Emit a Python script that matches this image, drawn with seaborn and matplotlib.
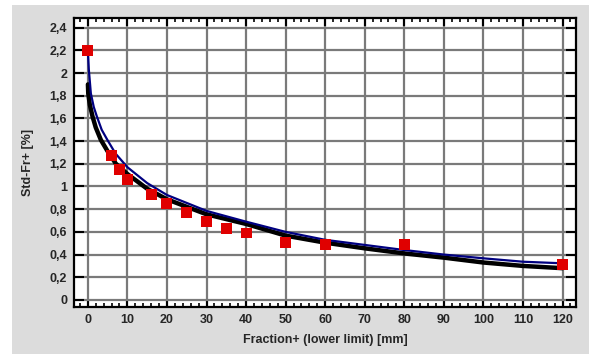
import numpy as np
import pandas as pd
import matplotlib
matplotlib.use("Agg")
import matplotlib.pyplot as plt
from matplotlib.patches import Rectangle
from matplotlib.ticker import MultipleLocator, FuncFormatter
import seaborn as sns

# Measured points (red squares)
frac_x = [0, 6, 8, 10, 16, 20, 25, 30, 35, 40, 50, 60, 80, 120]
std_y = [2.2, 1.27, 1.15, 1.06, 0.93, 0.85, 0.77, 0.69, 0.63, 0.59, 0.51, 0.485, 0.49, 0.31]

# Blue curve
blue_x = [0, 0.25, 0.76, 1.5, 2.3, 3.5, 4.95, 7, 9, 10, 15, 20, 30, 40, 50, 60, 70, 80, 90, 100, 110, 120]
blue_y = [2.2, 2.03, 1.82, 1.70, 1.615, 1.50, 1.41, 1.29, 1.21, 1.17, 1.03, 0.925, 0.785, 0.69, 0.60,
          0.53, 0.485, 0.44, 0.40, 0.367, 0.337, 0.323]

# Black curve
black_x = [0.02, 0.1, 0.5, 1.2, 2, 3.3, 5, 7.1, 10, 15, 20, 30, 40, 50, 60, 70, 80, 90, 100, 110, 120]
black_y = [1.90, 1.82, 1.72, 1.615, 1.52, 1.41, 1.31, 1.20, 1.11, 0.98, 0.887, 0.755, 0.67, 0.567,
           0.505, 0.455, 0.41, 0.373, 0.33, 0.30, 0.28]

sns.set_style("white")
plt.rcParams['font.family'] = ['Liberation Sans', 'DejaVu Sans']

fig = plt.figure(figsize=(5.89, 3.54), dpi=100)
fig.patch.set_facecolor("white")
fig.add_artist(Rectangle((12 / 589, 0), 1 - 12 / 589, 1 - 5 / 354, transform=fig.transFigure,
                         facecolor="#dcdcdc", edgecolor="none", zorder=-10))

ax = fig.add_axes([74 / 589, 47 / 354, (576 - 74) / 589, (307 - 18) / 354])
ax.set_facecolor("white")

blue_df = pd.DataFrame({"x": blue_x, "y": blue_y})
black_df = pd.DataFrame({"x": black_x, "y": black_y})
pts_df = pd.DataFrame({"x": frac_x, "y": std_y})

sns.lineplot(data=black_df, x="x", y="y", ax=ax, color="black", lw=3.2, sort=False,
             estimator=None, zorder=3, solid_joinstyle="round", solid_capstyle="round")
sns.lineplot(data=blue_df, x="x", y="y", ax=ax, color="#000080", lw=1.6, sort=False,
             estimator=None, zorder=4, solid_joinstyle="round")
sns.scatterplot(data=pts_df, x="x", y="y", ax=ax, marker="s", s=62, color="#e00000",
                edgecolor="none", zorder=5)

ax.set_xlim(-3.5, 123.4)
ax.set_ylim(-0.062, 2.485)

ax.xaxis.set_major_locator(MultipleLocator(10))
ax.xaxis.set_minor_locator(MultipleLocator(2))
ax.yaxis.set_major_locator(MultipleLocator(0.2))

def comma_fmt(v, pos):
    s = f"{v:.1f}".replace(".", ",")
    if s.endswith(",0"):
        s = s[:-2]
    if s == "-0":
        s = "0"
    return s

ax.yaxis.set_major_formatter(FuncFormatter(comma_fmt))

ax.grid(True, which="major", color="#7a7a7a", lw=1.6, zorder=0)
ax.set_axisbelow(True)

ax.tick_params(axis="x", which="major", direction="in", length=6, width=1.5, top=True,
               bottom=True, labelsize=9, pad=5, color="black")
ax.tick_params(axis="x", which="minor", direction="in", length=3, width=1.2, top=True,
               bottom=True, color="black")
ax.tick_params(axis="y", which="major", direction="in", length=7, width=1.5, left=True,
               right=True, labelsize=9, pad=5, color="black")
for lab in ax.get_xticklabels() + ax.get_yticklabels():
    lab.set_fontweight("bold")

for sp in ax.spines.values():
    sp.set_color("black")
    sp.set_linewidth(1.6)

ax.set_xlabel("Fraction+ (lower limit) [mm]", fontsize=9, fontweight="bold", labelpad=6)
ax.set_ylabel("Std-Fr+ [%]", fontsize=9, fontweight="bold", labelpad=11)

plt.savefig("out.png", dpi=100, facecolor=fig.get_facecolor())
plt.close()
